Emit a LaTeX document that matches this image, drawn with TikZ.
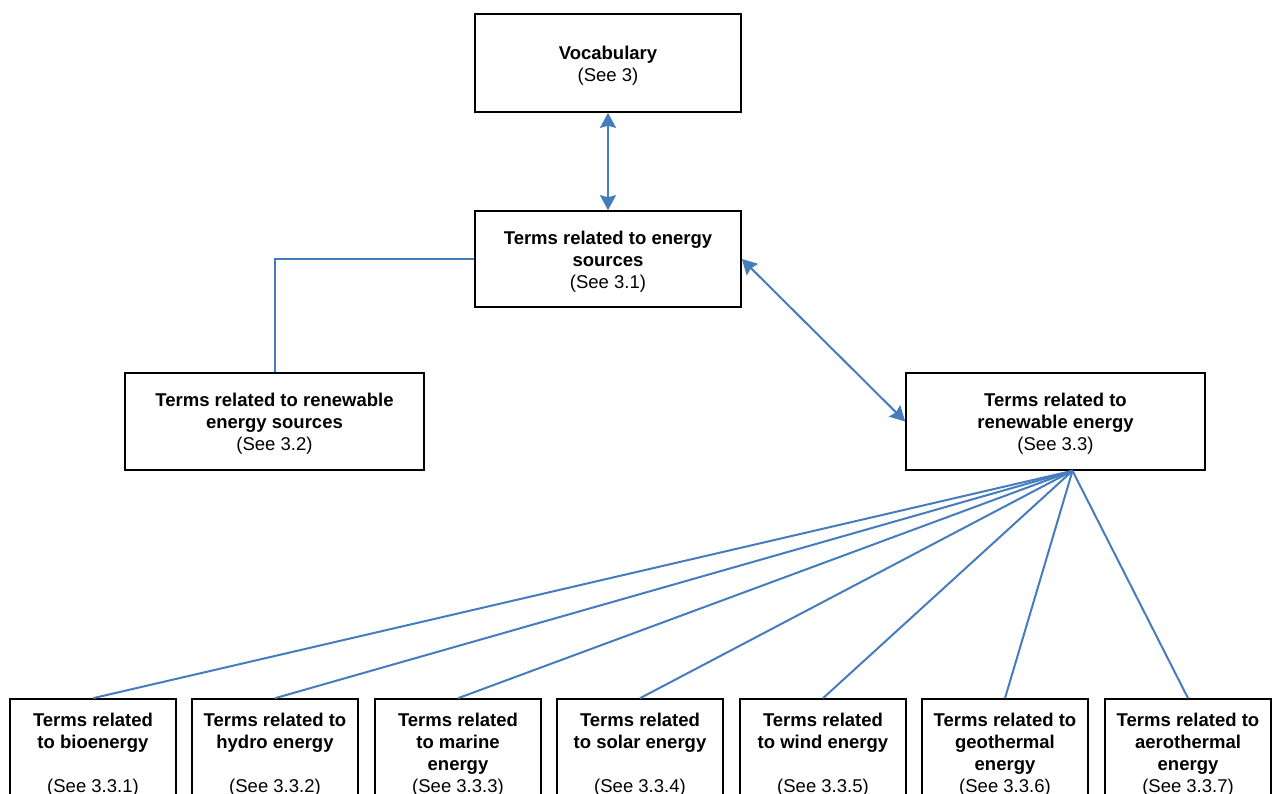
\documentclass[tikz,border=0pt]{standalone}
\usepackage{fontspec}
\setmainfont{Liberation Sans}
\usetikzlibrary{arrows.meta}
\definecolor{linkblue}{RGB}{70,124,190}
\newcommand\boxtop{\rule{0pt}{18.5pt}}

\begin{document}
\begin{tikzpicture}[x=1pt,y=-1pt,
    box/.style={draw,line width=1.6pt,align=center,inner sep=0pt,
      font=\fontsize{18.5}{22}\selectfont\bfseries},
    link/.style={draw=linkblue,line width=2pt,
      {Stealth[length=15pt,width=16pt,inset=2pt]}-{Stealth[length=15pt,width=16pt,inset=2pt]}},
    line/.style={draw=linkblue,line width=2pt}]
  \useasboundingbox (0,0) rectangle (1277,794);
  \clip (0,0) rectangle (1277,794);
  \node[box,minimum width=266pt,minimum height=98pt] (voc) at (608,63)
    {\boxtop Vocabulary\\{\mdseries (See 3)}};
  \node[box,minimum width=266pt,minimum height=96pt] (src) at (608,259)
    {\boxtop Terms related to energy\\sources\\{\mdseries (See 3.1)}};
  \node[box,minimum width=299pt,minimum height=97pt] (res) at (274.5,421.5)
    {\boxtop Terms related to renewable\\energy sources\\{\mdseries (See 3.2)}};
  \node[box,minimum width=299pt,minimum height=97pt] (ren) at (1055.5,421.5)
    {\boxtop Terms related to\\renewable energy\\{\mdseries (See 3.3)}};
  % bottom row
  \node[box,minimum width=166pt,minimum height=106pt] (t1) at (93,752)
    {\boxtop Terms related\\to bioenergy\\\mbox{}\\{\mdseries (See 3.3.1)}};
  \node[box,minimum width=166pt,minimum height=106pt] (t2) at (275,752)
    {\boxtop Terms related to\\hydro energy\\\mbox{}\\{\mdseries (See 3.3.2)}};
  \node[box,minimum width=166pt,minimum height=106pt] (t3) at (458,752)
    {\boxtop Terms related\\to marine\\energy\\{\mdseries (See 3.3.3)}};
  \node[box,minimum width=166pt,minimum height=106pt] (t4) at (640,752)
    {\boxtop Terms related\\to solar energy\\\mbox{}\\{\mdseries (See 3.3.4)}};
  \node[box,minimum width=166pt,minimum height=106pt] (t5) at (823,752)
    {\boxtop Terms related\\to wind energy\\\mbox{}\\{\mdseries (See 3.3.5)}};
  \node[box,minimum width=166pt,minimum height=106pt] (t6) at (1005,752)
    {\boxtop Terms related to\\geothermal\\energy\\{\mdseries (See 3.3.6)}};
  \node[box,minimum width=166pt,minimum height=106pt] (t7) at (1188,752)
    {\boxtop Terms related to\\aerothermal\\energy\\{\mdseries (See 3.3.7)}};

  \draw[link] (voc) -- (src);
  \draw[link] (src.east) -- (ren.west);
  \draw[line] (src.west) -| (res.north);
  \coordinate (hub) at ([xshift=17pt]ren.south);
  \foreach \i in {1,...,7}
    \draw[line] (hub) -- (t\i.north);
\end{tikzpicture}
\end{document}
